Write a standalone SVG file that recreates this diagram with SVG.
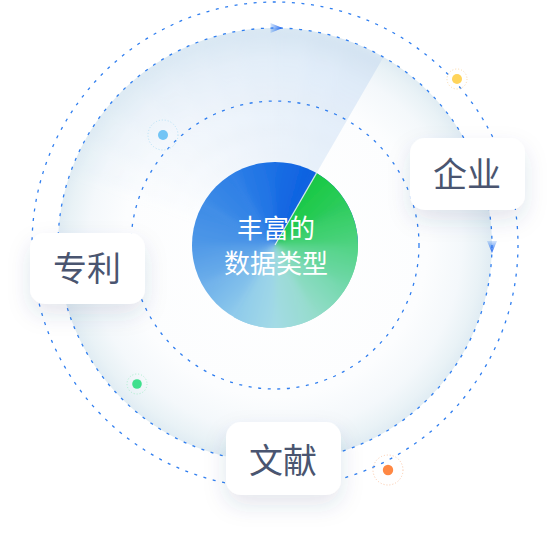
<svg xmlns="http://www.w3.org/2000/svg" width="555" height="549" viewBox="0 0 555 549">
<defs>
<style>
.ring{fill:none;stroke:#2f7ef0;stroke-width:1.3;stroke-dasharray:3 6.6}
.box{fill:#ffffff}
.lbl{font-family:"Noto Sans CJK SC","Noto Sans",sans-serif;font-size:34px;fill:#4a5570;text-anchor:middle}
.ctr{font-family:"Noto Sans CJK SC","Noto Sans",sans-serif;font-size:26px;fill:#ffffff;text-anchor:middle}
.sw{fill:url(#swg);fill-opacity:0.085}
</style>
<radialGradient id="disc" gradientUnits="userSpaceOnUse" cx="275" cy="245" r="217">
<stop offset="0" stop-color="#ffffff"/>
<stop offset="0.7" stop-color="#fcfdfe"/>
<stop offset="0.86" stop-color="#f4f8fb"/>
<stop offset="0.95" stop-color="#e9f2f6"/>
<stop offset="1" stop-color="#e0ecf3"/>
</radialGradient>
<radialGradient id="swg" gradientUnits="userSpaceOnUse" cx="275" cy="245" r="217">
<stop offset="0" stop-color="#d3e3f5" stop-opacity="0.5"/>
<stop offset="1" stop-color="#c9ddf3" stop-opacity="1"/>
</radialGradient>
<linearGradient id="g1" gradientUnits="userSpaceOnUse" x1="316.5" y1="173.12" x2="346.88" y2="203.5"><stop offset="0" stop-color="#18c843"/><stop offset="1" stop-color="#2ecd5c"/></linearGradient>
<linearGradient id="g2" gradientUnits="userSpaceOnUse" x1="346.88" y1="203.5" x2="358" y2="245"><stop offset="0" stop-color="#2ecd5c"/><stop offset="1" stop-color="#4fd382"/></linearGradient>
<linearGradient id="g3" gradientUnits="userSpaceOnUse" x1="358" y1="245" x2="346.88" y2="286.5"><stop offset="0" stop-color="#4fd382"/><stop offset="1" stop-color="#72d8ab"/></linearGradient>
<linearGradient id="g4" gradientUnits="userSpaceOnUse" x1="346.88" y1="286.5" x2="316.5" y2="316.88"><stop offset="0" stop-color="#72d8ab"/><stop offset="1" stop-color="#95dccb"/></linearGradient>
<linearGradient id="g5" gradientUnits="userSpaceOnUse" x1="316.5" y1="316.88" x2="275" y2="328"><stop offset="0" stop-color="#95dccb"/><stop offset="1" stop-color="#a4dbe6"/></linearGradient>
<linearGradient id="g6" gradientUnits="userSpaceOnUse" x1="275" y1="328" x2="233.5" y2="316.88"><stop offset="0" stop-color="#a4dbe6"/><stop offset="1" stop-color="#8ecaeb"/></linearGradient>
<linearGradient id="g7" gradientUnits="userSpaceOnUse" x1="233.5" y1="316.88" x2="203.12" y2="286.5"><stop offset="0" stop-color="#8ecaeb"/><stop offset="1" stop-color="#6eb0ea"/></linearGradient>
<linearGradient id="g8" gradientUnits="userSpaceOnUse" x1="203.12" y1="286.5" x2="192" y2="245"><stop offset="0" stop-color="#6eb0ea"/><stop offset="1" stop-color="#4f98e7"/></linearGradient>
<linearGradient id="g9" gradientUnits="userSpaceOnUse" x1="192" y1="245" x2="203.12" y2="203.5"><stop offset="0" stop-color="#4f98e7"/><stop offset="1" stop-color="#3d8be6"/></linearGradient>
<linearGradient id="g10" gradientUnits="userSpaceOnUse" x1="203.12" y1="203.5" x2="233.5" y2="173.12"><stop offset="0" stop-color="#3d8be6"/><stop offset="1" stop-color="#2c7ee6"/></linearGradient>
<linearGradient id="g11" gradientUnits="userSpaceOnUse" x1="233.5" y1="173.12" x2="275" y2="162"><stop offset="0" stop-color="#2c7ee6"/><stop offset="1" stop-color="#1b6fe4"/></linearGradient>
<linearGradient id="g12" gradientUnits="userSpaceOnUse" x1="275" y1="162" x2="316.5" y2="173.12"><stop offset="0" stop-color="#1b6fe4"/><stop offset="1" stop-color="#0b5fe0"/></linearGradient>
<linearGradient id="arrR" x1="0" y1="0" x2="1" y2="0"><stop offset="0" stop-color="#2f7ef0" stop-opacity="0.2"/><stop offset="1" stop-color="#1c5ff0"/></linearGradient>
<linearGradient id="arrD" x1="0" y1="0" x2="0" y2="1"><stop offset="0" stop-color="#2f7ef0" stop-opacity="0.2"/><stop offset="1" stop-color="#1c5ff0"/></linearGradient>
<path id="w1" d="M275,245 L321,165.33 A92,92 0 0 1 354.67,199 Z"/>
<path id="w2" d="M275,245 L354.67,199 A92,92 0 0 1 367,245 Z"/>
<path id="w3" d="M275,245 L367,245 A92,92 0 0 1 354.67,291 Z"/>
<path id="w4" d="M275,245 L354.67,291 A92,92 0 0 1 321,324.67 Z"/>
<path id="w5" d="M275,245 L321,324.67 A92,92 0 0 1 275,337 Z"/>
<path id="w6" d="M275,245 L275,337 A92,92 0 0 1 229,324.67 Z"/>
<path id="w7" d="M275,245 L229,324.67 A92,92 0 0 1 195.33,291 Z"/>
<path id="w8" d="M275,245 L195.33,291 A92,92 0 0 1 183,245 Z"/>
<path id="w9" d="M275,245 L183,245 A92,92 0 0 1 195.33,199 Z"/>
<path id="w10" d="M275,245 L195.33,199 A92,92 0 0 1 229,165.33 Z"/>
<path id="w11" d="M275,245 L229,165.33 A92,92 0 0 1 275,153 Z"/>
<path id="w12" d="M275,245 L275,153 A92,92 0 0 1 321,165.33 Z"/>
<clipPath id="clipA"><path d="M275,245 L316.5,173.12 A83,83 0 0 1 358,245 A83,83 0 0 1 233.5,316.88 Z"/></clipPath>
<clipPath id="clipB"><circle cx="275" cy="245" r="83"/></clipPath>
<clipPath id="clipS"><path d="M275,245 L87.08,353.5 A217,217 0 0 1 275,28 A217,217 0 0 1 383.5,57.08 Z"/></clipPath>
<filter id="blur" x="-20%" y="-20%" width="140%" height="140%"><feGaussianBlur stdDeviation="3"/></filter>
<filter id="blurS" x="-20%" y="-20%" width="140%" height="140%"><feGaussianBlur stdDeviation="5"/></filter>
<filter id="shadow" x="-60%" y="-60%" width="220%" height="260%">
<feDropShadow dx="0" dy="10" stdDeviation="11" flood-color="#3a4a7a" flood-opacity="0.13"/>
</filter>
</defs>
<rect width="555" height="549" fill="#ffffff"/>
<g id="background">
<circle cx="275" cy="245" r="217" fill="url(#disc)"/>
<g id="sweep" clip-path="url(#clipS)">
<g filter="url(#blurS)">
<path class="sw" d="M275,245 L71.08,170.78 A217,217 0 0 1 414.49,78.78 Z"/>
<path class="sw" d="M275,245 L87.08,136.5 A217,217 0 0 1 414.49,78.78 Z"/>
<path class="sw" d="M275,245 L108.77,105.51 A217,217 0 0 1 414.49,78.78 Z"/>
<path class="sw" d="M275,245 L135.51,78.77 A217,217 0 0 1 414.49,78.78 Z"/>
<path class="sw" d="M275,245 L166.5,57.08 A217,217 0 0 1 414.49,78.78 Z"/>
<path class="sw" d="M275,245 L200.78,41.08 A217,217 0 0 1 414.49,78.78 Z"/>
<path class="sw" d="M275,245 L237.32,31.3 A217,217 0 0 1 414.49,78.78 Z"/>
<path class="sw" d="M275,245 L275,28 A217,217 0 0 1 414.49,78.78 Z"/>
<path class="sw" d="M275,245 L312.68,31.3 A217,217 0 0 1 414.49,78.78 Z"/>
<path class="sw" d="M275,245 L349.22,41.08 A217,217 0 0 1 414.49,78.78 Z"/>
</g>
</g>
</g>
<g id="connectors">
<circle class="ring" cx="275" cy="245" r="144"/>
<circle class="ring" cx="275" cy="245" r="217"/>
<circle class="ring" cx="275" cy="245" r="243"/>
<polygon points="270.5,23 282.5,28 270.5,33" fill="url(#arrR)"/>
<polygon points="487,241 497,241 492,253" fill="url(#arrD)"/>
</g>
<g id="dots">
<g id="dot-yellow"><circle cx="457" cy="79" r="10" fill="none" stroke="#fdd8a8" stroke-width="1" stroke-dasharray="1 2"/><circle cx="457" cy="79" r="5" fill="#ffd45a"/></g>
<g id="dot-blue"><circle cx="163" cy="135" r="15" fill="none" stroke="#b6e2f8" stroke-width="1" stroke-dasharray="1 2"/><circle cx="163" cy="135" r="5" fill="#72c4f5"/></g>
<g id="dot-green"><circle cx="137" cy="384" r="10" fill="none" stroke="#a8f0cc" stroke-width="1" stroke-dasharray="1 2"/><circle cx="137" cy="384" r="4.8" fill="#3ee08c"/></g>
<g id="dot-orange"><circle cx="388" cy="470" r="15" fill="none" stroke="#fdc8a8" stroke-width="1" stroke-dasharray="1 2"/><circle cx="388" cy="470" r="5.2" fill="#ff8844"/></g>
</g>
<g id="center">
<g clip-path="url(#clipB)">
<g filter="url(#blur)">
<use href="#w3" fill="url(#g3)"/>
<use href="#w4" fill="url(#g4)"/>
<use href="#w5" fill="url(#g5)"/>
<use href="#w6" fill="url(#g6)"/>
<use href="#w7" fill="url(#g7)"/>
<use href="#w8" fill="url(#g8)"/>
<use href="#w9" fill="url(#g9)"/>
<use href="#w10" fill="url(#g10)"/>
<use href="#w11" fill="url(#g11)"/>
<use href="#w12" fill="url(#g12)"/>
<use href="#w1" fill="#0b5fe0"/>
<use href="#w2" fill="#0b5fe0"/>
</g>
</g>
<g clip-path="url(#clipA)">
<g filter="url(#blur)">
<use href="#w11" fill="#18c843"/>
<use href="#w12" fill="#18c843"/>
<use href="#w1" fill="url(#g1)"/>
<use href="#w2" fill="url(#g2)"/>
<use href="#w3" fill="url(#g3)"/>
<use href="#w4" fill="url(#g4)"/>
<use href="#w5" fill="url(#g5)"/>
<use href="#w6" fill="url(#g6)"/>
<use href="#w7" fill="url(#g7)"/>
<use href="#w8" fill="url(#g8)"/>
</g>
</g>
<line x1="275" y1="245" x2="316.5" y2="173.12" stroke="#ffffff" stroke-width="1.2" stroke-opacity="0.8"/>
<text class="ctr" x="276" y="238">丰富的</text>
<text class="ctr" x="276" y="273">数据类型</text>
</g>
<g id="node-qiye">
<rect class="box" x="410" y="138" width="115" height="72" rx="15" filter="url(#shadow)"/>
<text class="lbl" x="467" y="187">企业</text>
</g>
<g id="node-zhuanli">
<rect class="box" x="30" y="233" width="115" height="71" rx="15" filter="url(#shadow)"/>
<text class="lbl" x="87" y="281">专利</text>
</g>
<g id="node-wenxian">
<rect class="box" x="226" y="422" width="115" height="73" rx="15" filter="url(#shadow)"/>
<text class="lbl" x="283" y="473">文献</text>
</g>
</svg>
